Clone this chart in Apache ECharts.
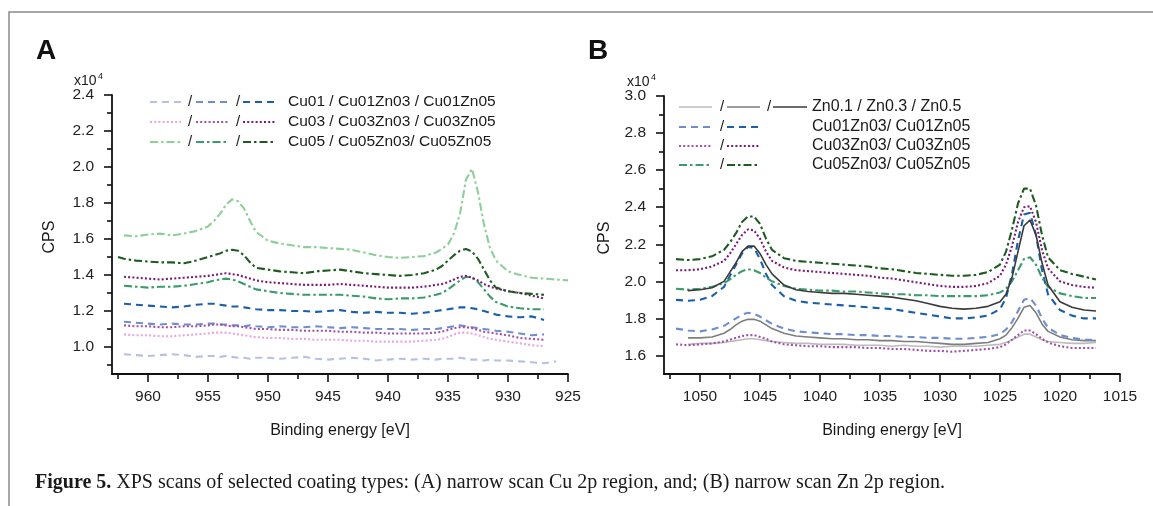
<!DOCTYPE html>
<html>
<head>
<meta charset="utf-8">
<script src="https://cdn.jsdelivr.net/npm/echarts@6/dist/echarts.min.js"></script>
<style>
html,body{margin:0;padding:0;background:#fff;}
#c{width:1153px;height:506px;}
</style>
</head>
<body>
<div id="c"></div>
<script>
// ---------- Panel A: Cu 2p region (values x10^4 CPS) ----------
const eA = [962.5,962,961,960,959,958,957,956,955,954.5,954,953.5,953,952.5,952,951.5,951,950,949,948,947,946,945,944,943,942,941,940,939,938,937,936,935.5,935,934.5,934,933.5,933,932.5,932,931.5,931,930,929,928,927,926,925];

const aCu01 = [null,0.96,0.955,0.95,0.955,0.96,0.955,0.945,0.95,0.95,0.945,0.95,0.945,0.94,0.94,0.935,0.94,0.94,0.935,0.94,0.945,0.935,0.93,0.935,0.94,0.935,0.925,0.93,0.935,0.93,0.935,0.93,0.935,0.935,0.935,0.94,0.935,0.93,0.93,0.925,0.93,0.925,0.925,0.92,0.915,0.91,0.92,null];
const aCu01Zn03 = [null,1.14,1.135,1.13,1.125,1.13,1.125,1.125,1.13,1.13,1.125,1.125,1.12,1.12,1.115,1.12,1.115,1.11,1.115,1.11,1.11,1.115,1.11,1.105,1.11,1.105,1.10,1.10,1.10,1.095,1.10,1.10,1.105,1.11,1.115,1.12,1.115,1.11,1.105,1.10,1.095,1.09,1.085,1.075,1.065,1.07,null,null];
const aCu01Zn05 = [null,1.24,1.235,1.23,1.225,1.22,1.225,1.235,1.24,1.24,1.235,1.23,1.225,1.225,1.22,1.215,1.21,1.205,1.205,1.20,1.20,1.195,1.20,1.205,1.195,1.19,1.195,1.19,1.19,1.185,1.19,1.20,1.205,1.21,1.215,1.22,1.22,1.215,1.21,1.20,1.19,1.18,1.17,1.165,1.17,1.15,null,null];
const aCu03 = [null,1.07,1.065,1.065,1.06,1.06,1.065,1.07,1.075,1.08,1.08,1.08,1.075,1.07,1.065,1.06,1.055,1.05,1.05,1.045,1.045,1.04,1.04,1.04,1.035,1.035,1.03,1.03,1.03,1.03,1.035,1.04,1.045,1.055,1.07,1.08,1.08,1.075,1.065,1.055,1.045,1.04,1.03,1.02,1.01,1.005,null,null];
const aCu03Zn03 = [null,1.12,1.115,1.115,1.11,1.11,1.115,1.115,1.12,1.125,1.125,1.12,1.115,1.115,1.11,1.105,1.10,1.10,1.095,1.095,1.09,1.09,1.09,1.085,1.085,1.08,1.08,1.075,1.075,1.075,1.075,1.08,1.085,1.095,1.105,1.11,1.11,1.105,1.095,1.085,1.08,1.075,1.065,1.05,1.045,1.04,null,null];
const aCu03Zn05 = [null,1.39,1.385,1.38,1.375,1.38,1.385,1.39,1.395,1.40,1.405,1.41,1.405,1.40,1.39,1.38,1.37,1.36,1.355,1.35,1.345,1.345,1.345,1.35,1.345,1.34,1.335,1.33,1.33,1.33,1.335,1.345,1.35,1.36,1.375,1.39,1.395,1.385,1.37,1.35,1.335,1.325,1.31,1.30,1.285,1.27,null,null];
const aCu05 = [null,1.62,1.615,1.625,1.63,1.62,1.63,1.645,1.67,1.70,1.74,1.79,1.82,1.81,1.77,1.70,1.64,1.59,1.575,1.565,1.555,1.555,1.55,1.545,1.54,1.525,1.51,1.50,1.495,1.50,1.505,1.525,1.545,1.57,1.63,1.74,1.93,1.99,1.86,1.68,1.55,1.48,1.42,1.40,1.385,1.38,1.375,1.37];
const aCu05Zn03 = [null,1.34,1.335,1.33,1.335,1.335,1.34,1.35,1.36,1.37,1.375,1.38,1.375,1.365,1.35,1.335,1.32,1.31,1.30,1.295,1.29,1.29,1.29,1.29,1.285,1.28,1.27,1.265,1.27,1.27,1.275,1.29,1.30,1.32,1.345,1.37,1.39,1.385,1.36,1.32,1.28,1.25,1.225,1.215,1.21,1.21,null,null];
const aCu05Zn05 = [1.50,1.49,1.48,1.475,1.47,1.47,1.465,1.48,1.50,1.51,1.52,1.535,1.54,1.535,1.51,1.47,1.44,1.43,1.42,1.415,1.41,1.42,1.425,1.43,1.42,1.41,1.405,1.40,1.395,1.40,1.41,1.43,1.45,1.48,1.51,1.535,1.545,1.53,1.49,1.43,1.37,1.33,1.31,1.30,1.295,1.29,null,null];

const ticksAx = [925,930,935,940,945,950,955,960];
const minorAx = [927.5,932.5,937.5,942.5,947.5,952.5,957.5,962.5];
const ticksAy = [1.0,1.2,1.4,1.6,1.8,2.0,2.2,2.4];
const minorAy = [0.9,1.1,1.3,1.5,1.7,1.9,2.1,2.3];

// ---------- Panel B: Zn 2p region (values x10^4 CPS) ----------
const eB = [1052,1051,1050,1049,1048,1047.5,1047,1046.5,1046,1045.5,1045,1044.5,1044,1043,1042,1041,1040,1039,1038,1037,1036,1035,1034,1033,1032,1031,1030,1029,1028,1027,1026,1025,1024.5,1024,1023.5,1023,1022.5,1022,1021.5,1021,1020,1019,1018,1017];

const bZn01 = [null,1.66,1.665,1.665,1.67,1.675,1.68,1.685,1.69,1.69,1.685,1.68,1.675,1.67,1.665,1.665,1.66,1.66,1.66,1.655,1.655,1.655,1.65,1.655,1.65,1.65,1.645,1.65,1.65,1.65,1.655,1.66,1.67,1.685,1.70,1.715,1.715,1.70,1.685,1.675,1.67,1.665,1.665,1.67];
const bZn03 = [null,1.695,1.695,1.70,1.72,1.74,1.765,1.785,1.795,1.795,1.785,1.765,1.745,1.72,1.705,1.70,1.695,1.69,1.69,1.685,1.685,1.68,1.68,1.675,1.675,1.67,1.665,1.66,1.66,1.665,1.67,1.69,1.71,1.75,1.80,1.86,1.87,1.83,1.77,1.73,1.70,1.685,1.68,1.68];
const bZn05 = [null,1.95,1.955,1.965,2.00,2.05,2.10,2.16,2.19,2.19,2.15,2.09,2.04,1.98,1.955,1.945,1.94,1.935,1.935,1.93,1.925,1.92,1.915,1.905,1.895,1.88,1.865,1.855,1.85,1.855,1.865,1.89,1.93,2.02,2.16,2.30,2.33,2.25,2.10,1.98,1.89,1.86,1.845,1.84];
const bCu01Zn03 = [1.745,1.735,1.73,1.74,1.76,1.78,1.80,1.82,1.83,1.825,1.81,1.79,1.77,1.745,1.73,1.725,1.72,1.715,1.715,1.71,1.71,1.705,1.705,1.70,1.70,1.695,1.695,1.69,1.69,1.695,1.70,1.715,1.74,1.78,1.84,1.90,1.91,1.87,1.80,1.75,1.71,1.695,1.685,1.685];
const bCu01Zn05 = [1.90,1.895,1.90,1.92,1.97,2.03,2.09,2.15,2.185,2.18,2.12,2.04,1.98,1.92,1.895,1.885,1.88,1.875,1.87,1.865,1.86,1.855,1.85,1.84,1.83,1.82,1.81,1.80,1.80,1.805,1.815,1.85,1.91,2.04,2.22,2.36,2.37,2.25,2.06,1.93,1.845,1.815,1.80,1.80];
const bCu03Zn03 = [1.66,1.655,1.66,1.665,1.675,1.685,1.695,1.705,1.71,1.71,1.70,1.69,1.675,1.66,1.655,1.65,1.65,1.645,1.645,1.645,1.64,1.64,1.635,1.635,1.63,1.625,1.625,1.62,1.625,1.63,1.635,1.645,1.66,1.685,1.71,1.735,1.735,1.715,1.69,1.67,1.65,1.64,1.64,1.64];
const bCu03Zn05 = [2.06,2.06,2.065,2.08,2.11,2.15,2.20,2.25,2.28,2.275,2.23,2.16,2.11,2.075,2.06,2.055,2.05,2.045,2.04,2.035,2.03,2.02,2.015,2.005,1.995,1.985,1.975,1.97,1.97,1.975,1.99,2.03,2.09,2.19,2.32,2.40,2.405,2.32,2.17,2.07,2.00,1.98,1.97,1.965];
const bCu05Zn03 = [1.96,1.955,1.96,1.97,1.99,2.01,2.035,2.055,2.065,2.06,2.045,2.02,2.00,1.975,1.96,1.955,1.95,1.95,1.945,1.945,1.94,1.935,1.93,1.93,1.925,1.925,1.92,1.92,1.92,1.92,1.925,1.94,1.96,2.00,2.06,2.12,2.13,2.09,2.02,1.97,1.935,1.92,1.91,1.91];
const bCu05Zn05 = [2.12,2.115,2.12,2.135,2.17,2.21,2.26,2.32,2.35,2.35,2.31,2.23,2.17,2.125,2.11,2.105,2.10,2.095,2.09,2.085,2.08,2.07,2.065,2.055,2.045,2.04,2.035,2.03,2.03,2.035,2.05,2.09,2.16,2.28,2.42,2.50,2.50,2.41,2.25,2.13,2.06,2.04,2.025,2.01];

const ticksBx = [1015,1020,1025,1030,1035,1040,1045,1050];
const minorBx = [1017.5,1022.5,1027.5,1032.5,1037.5,1042.5,1047.5,1052.5];
const ticksBy = [1.6,1.8,2.0,2.2,2.4,2.6,2.8,3.0];
const minorBy = [1.7,1.9,2.1,2.3,2.5,2.7,2.9];

// ---------- styles ----------
const C = {
  lav:'#b7bfe6', mblue:'#6f8ed0', dblue:'#1b5fa9',
  pink:'#e9a5de', mpurp:'#a24fab', dpurp:'#7b1a7d',
  lgreen:'#8dcf99', mgreen:'#3b9b6c', dgreen:'#1d5b20',
  lgray:'#bcbcbc', mgray:'#7e7e7e', dgray:'#3a3a3a'
};
const DASH = [7,5], DOT = [2,2.2], DASHDOT = [8,3,2.5,3];
const FONT = '"Liberation Sans", Arial, sans-serif';

function mk(name, e, ys, color, dash, grid, w) {
  return {
    name, type:'line', xAxisIndex:grid*2, yAxisIndex:grid*2,
    data: e.map((x,i)=>[x, ys[i]]), showSymbol:false, symbol:'none',
    connectNulls:false, animation:false, silent:true,
    lineStyle:{color, width:w||2.1, type:dash||'solid', cap:'butt'}
  };
}

const series = [
  mk('Cu01', eA, aCu01, C.lav, DASH, 0),
  mk('Cu01Zn03', eA, aCu01Zn03, C.mblue, DASH, 0),
  mk('Cu03', eA, aCu03, C.pink, DOT, 0),
  mk('Cu03Zn03', eA, aCu03Zn03, C.mpurp, DOT, 0),
  mk('Cu01Zn05', eA, aCu01Zn05, C.dblue, DASH, 0),
  mk('Cu05Zn03', eA, aCu05Zn03, C.mgreen, DASHDOT, 0),
  mk('Cu03Zn05', eA, aCu03Zn05, C.dpurp, DOT, 0),
  mk('Cu05Zn05', eA, aCu05Zn05, C.dgreen, DASHDOT, 0),
  mk('Cu05', eA, aCu05, C.lgreen, DASHDOT, 0),

  mk('Zn0.1', eB, bZn01, C.lgray, 'solid', 1, 1.6),
  mk('Cu03Zn03', eB, bCu03Zn03, C.mpurp, DOT, 1),
  mk('Zn0.3', eB, bZn03, C.mgray, 'solid', 1, 1.6),
  mk('Cu01Zn03', eB, bCu01Zn03, C.mblue, DASH, 1),
  mk('Cu01Zn05', eB, bCu01Zn05, C.dblue, DASH, 1),
  mk('Cu05Zn03', eB, bCu05Zn03, C.mgreen, DASHDOT, 1),
  mk('Zn0.5', eB, bZn05, C.dgray, 'solid', 1, 1.6),
  mk('Cu03Zn05', eB, bCu03Zn05, C.dpurp, DOT, 1),
  mk('Cu05Zn05', eB, bCu05Zn05, C.dgreen, DASHDOT, 1)
];

function xAxes(grid, min, max, major, minor) {
  return [
    {type:'value', gridIndex:grid, min, max, inverse:true, position:'bottom',
     axisLine:{show:true, onZero:false, lineStyle:{color:'#111', width:1.8}},
     axisTick:{show:true, length:8, customValues:major, lineStyle:{color:'#111', width:1.6}},
     axisLabel:{show:true, customValues:major, margin:15, color:'#222', fontSize:15.5, fontFamily:FONT,
                formatter:v=>String(Math.round(v))},
     splitLine:{show:false}},
    {type:'value', gridIndex:grid, min, max, inverse:true, position:'bottom',
     axisLine:{show:false, onZero:false},
     axisTick:{show:true, length:5, customValues:minor, lineStyle:{color:'#111', width:1.6}},
     axisLabel:{show:false}, splitLine:{show:false}}
  ];
}
function yAxes(grid, min, max, major, minor) {
  return [
    {type:'value', gridIndex:grid, min, max, position:'left',
     axisLine:{show:true, onZero:false, lineStyle:{color:'#111', width:1.8}},
     axisTick:{show:true, length:8, customValues:major, lineStyle:{color:'#111', width:1.6}},
     axisLabel:{show:true, customValues:major, margin:18, color:'#222', fontSize:15.5, fontFamily:FONT,
                formatter:v=>v.toFixed(1)},
     splitLine:{show:false}},
    {type:'value', gridIndex:grid, min, max, position:'left',
     axisLine:{show:false, onZero:false},
     axisTick:{show:true, length:5, customValues:minor, lineStyle:{color:'#111', width:1.6}},
     axisLabel:{show:false}, splitLine:{show:false}}
  ];
}

// ---------- legend / annotation graphics ----------
const G = [];
function seg(x1,x2,y,color,dash,w){
  G.push({type:'line', silent:true, z:10, shape:{x1,y1:y,x2,y2:y},
          style:{stroke:color, lineWidth:w||2.1, lineDash:dash==='solid'?null:dash}});
}
function txt(x,y,text,opt){
  opt = opt||{};
  G.push({type:'text', silent:true, z:10, x, y, rotation:opt.rot||0,
          style:{text, font:(opt.weight||'normal')+' '+(opt.size||16)+'px '+(opt.family||FONT),
                 fill:opt.color||'#1a1a1a', textAlign:opt.align||'left', textVerticalAlign:opt.va||'middle'}});
}

// frame
G.push({type:'polyline', silent:true, shape:{points:[[9,506],[9,12],[1153,12]]},
        style:{stroke:'#8a8a8a', lineWidth:1.5, fill:null}});

// panel letters & exponent
txt(36,51,'A',{size:28,weight:'bold',color:'#111'});
txt(588,51,'B',{size:28,weight:'bold',color:'#111'});
txt(74,81,'x10',{size:14});
txt(98,77,'4',{size:9});
txt(627,82,'x10',{size:14});
txt(651,78,'4',{size:9});

// axis titles
txt(340,431,'Binding energy [eV]',{size:16,align:'center'});
txt(892,431,'Binding energy [eV]',{size:16,align:'center'});
G.push({type:'text', silent:true, x:50, y:237, rotation:Math.PI/2,
        style:{text:'CPS', font:'16px '+FONT, fill:'#1a1a1a', textAlign:'center', textVerticalAlign:'middle'}});
G.push({type:'text', silent:true, x:605, y:238, rotation:Math.PI/2,
        style:{text:'CPS', font:'16px '+FONT, fill:'#1a1a1a', textAlign:'center', textVerticalAlign:'middle'}});

// legend A
const legA = [
  {y:102, cols:[C.lav,C.mblue,C.dblue], dash:DASH, label:'Cu01 / Cu01Zn03 / Cu01Zn05'},
  {y:122, cols:[C.pink,C.mpurp,C.dpurp], dash:DOT, label:'Cu03 / Cu03Zn03 / Cu03Zn05'},
  {y:142, cols:[C.lgreen,C.mgreen,C.dgreen], dash:DASHDOT, label:'Cu05 / Cu05Zn03/ Cu05Zn05'}
];
legA.forEach(r=>{
  seg(150,181,r.y,r.cols[0],r.dash);
  txt(188,r.y,'/',{size:15});
  seg(196,229,r.y,r.cols[1],r.dash);
  txt(236,r.y,'/',{size:15});
  seg(243,276,r.y,r.cols[2],r.dash);
  txt(288,r.y,r.label,{size:15.5});
});
// legend B
const legB = [
  {y:107, cols:[C.lgray,C.mgray,C.dgray], dash:'solid', label:'Zn0.1 / Zn0.3 / Zn0.5', w:1.6},
  {y:127, cols:[C.mblue,C.dblue], dash:DASH, label:'Cu01Zn03/ Cu01Zn05'},
  {y:146, cols:[C.mpurp,C.dpurp], dash:DOT, label:'Cu03Zn03/ Cu03Zn05'},
  {y:165, cols:[C.mgreen,C.dgreen], dash:DASHDOT, label:'Cu05Zn03/ Cu05Zn05'}
];
legB.forEach(r=>{
  seg(679,712,r.y,r.cols[0],r.dash,r.w);
  txt(720,r.y,'/',{size:15});
  seg(727,760,r.y,r.cols[1],r.dash,r.w);
  if (r.cols[2]) {
    txt(767,r.y,'/',{size:15});
    seg(773,807,r.y,r.cols[2],r.dash,r.w);
  }
  txt(812,r.y,r.label,{size:16});
});

// caption
G.push({type:'text', silent:true, x:35, y:483,
  style:{text:'{b|Figure 5.} XPS scans of selected coating types: (A) narrow scan Cu 2p region, and; (B) narrow scan Zn 2p region.',
         font:'20px "Liberation Serif", "Times New Roman", serif', fill:'#1a1a1a', textVerticalAlign:'middle',
         rich:{b:{fontWeight:'bold', fontSize:20, fontFamily:'"Liberation Serif", serif', fill:'#1a1a1a'}}}});

const chart = echarts.init(document.getElementById('c'), null, {renderer:'canvas'});
chart.setOption({
  animation:false,
  backgroundColor:'#ffffff',
  grid:[
    {left:112, top:95, width:456, height:279},
    {left:664, top:96, width:456, height:278}
  ],
  xAxis:[...xAxes(0,925,963,ticksAx,minorAx), ...xAxes(1,1015,1053,ticksBx,minorBx)],
  yAxis:[...yAxes(0,0.85,2.4,ticksAy,minorAy), ...yAxes(1,1.5,3.0,ticksBy,minorBy)],
  series,
  graphic:G
});
</script>
</body>
</html>
